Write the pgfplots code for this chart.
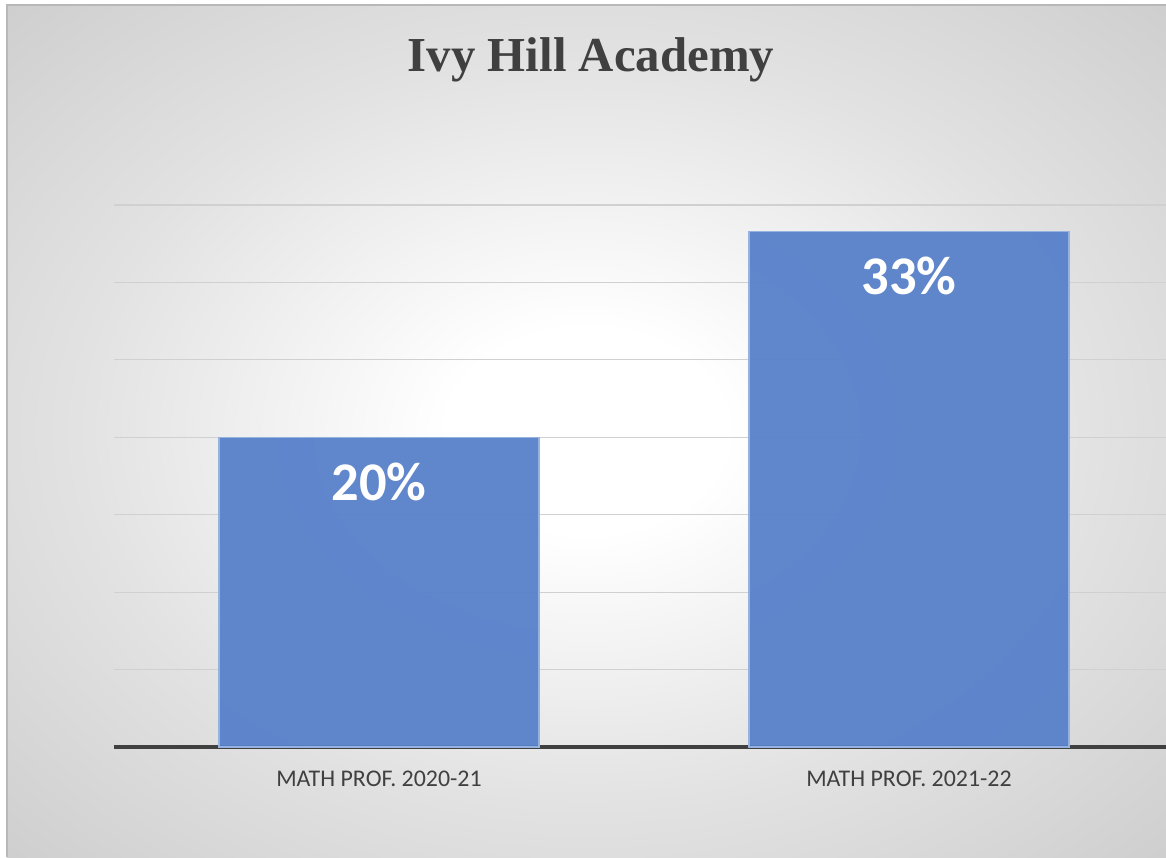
\documentclass[border=0pt]{standalone}
\usepackage{fontspec}
\setmainfont{Carlito}
\newfontfamily\titlefont{Liberation Serif}
\usepackage{pgfplots}
\pgfplotsset{compat=1.18}

\definecolor{txtgray}{HTML}{404040}
\definecolor{gridgray}{HTML}{D0D0D0}
\definecolor{barblue}{RGB}{88,129,202}
\definecolor{baredge}{RGB}{150,178,224}
\definecolor{bgedge}{HTML}{B8B8B8}
\definecolor{bgmid}{HTML}{C8C8C8}
\definecolor{bgin}{HTML}{E2E2E2}

% 1 px of the reference = 0.02cm
\pgfdeclareradialshading{bgshade}{\pgfpoint{0bp}{0bp}}{%
  color(0bp)=(white); color(6bp)=(white); color(22bp)=(bgin); color(40bp)=(bgmid); color(71bp)=(bgedge)}

\begin{document}
\begin{tikzpicture}
\useasboundingbox (0,0) rectangle (23.32cm,17.14cm);
\fill[white] (0,0) rectangle (23.32cm,17.14cm);
\shade[shading=bgshade] (0.14cm,0) rectangle (23.32cm,17.04cm);
\draw[color=bgedge, line width=0.8pt] (0.14cm,0) -- (0.14cm,17.04cm) -- (23.32cm,17.04cm);

\node[anchor=base, text=txtgray, font=\titlefont\bfseries\fontsize{27.8}{30}\selectfont]
  at (11.82cm,15.70cm) {Ivy Hill Academy};

\begin{axis}[
    at={(2.28cm,2.2cm)}, anchor=south west,
    scale only axis,
    width=21.04cm, height=10.84cm,
    ybar, bar width=6.4cm,
    xmin=-0.5, xmax=1.4849,
    ymin=0, ymax=35,
    xtick={0,1},
    xticklabels={MATH PROF. 2020-21, MATH PROF. 2021-22},
    xticklabel style={anchor=base, yshift=-0.78cm, text=txtgray, font=\fontsize{13.6}{15}\selectfont},
    ytick={0,5,...,35}, yticklabels={},
    major tick length=0pt,
    ymajorgrids, grid style={gridgray, line width=0.6pt},
    axis x line*=bottom, axis y line*=left,
    x axis line style={line width=2.2pt, color=txtgray},
    y axis line style={draw=none},
    /pgf/number format/assume math mode=true,
    nodes near coords={\textbf{\pgfmathprintnumber[fixed,precision=0,assume math mode=true]{\pgfplotspointmeta}\%}},
    every node near coord/.append style={anchor=base, yshift=-1.27cm, text=white,
        font=\bfseries\fontsize{31}{34}\selectfont},
]
\addplot[fill=barblue, fill opacity=0.95, draw=baredge, line width=0.7pt, text opacity=1]
  coordinates {(0,20) (1,33.3)};
\end{axis}
\end{tikzpicture}
\end{document}
